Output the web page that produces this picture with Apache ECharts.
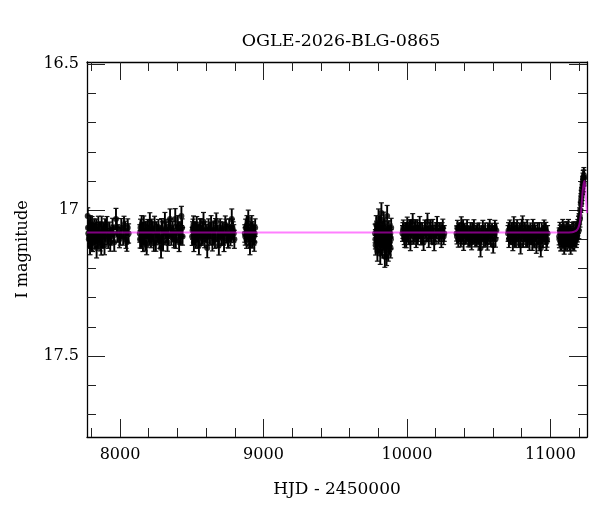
<!DOCTYPE html>
<html>
<head>
<meta charset="utf-8">
<script src="https://cdn.jsdelivr.net/npm/echarts@6/dist/echarts.min.js"></script>
<style>
html,body{margin:0;padding:0;background:#fff;}
#chart{width:600px;height:512px;}
</style>
</head>
<body>
<div id="chart"></div>
<script>
// ---- data: [HJD-2450000, I mag, error] ----
const season1 = [[7775,17.02,0.028],[7779,17.08,0.030],[7783,17.10,0.031],[7787,17.06,0.027],[7791,17.12,0.033],[7796,17.07,0.029],[7800,17.09,0.030],[7805,17.05,0.028],[7810,17.11,0.032],[7815,17.08,0.029],[7820,17.06,0.030],[7826,17.10,0.031],[7831,17.07,0.028],[7837,17.13,0.034],[7843,17.09,0.030],[7849,17.05,0.029],[7856,17.08,0.031],[7862,17.11,0.030],[7869,17.12,0.034],[7876,17.09,0.032],[7884,17.07,0.029],[7892,17.12,0.033],[7900,17.08,0.030],[7909,17.05,0.028],[7918,17.10,0.031],[7927,17.07,0.029],[7937,17.09,0.030],[7948,17.06,0.032],[7960,17.11,0.031],[7972,17.03,0.036],[7984,17.08,0.030],[7996,17.10,0.029],[8009,17.06,0.031],[8022,17.09,0.030],[8035,17.07,0.032],[8048,17.11,0.031],[8060,17.08,0.033],
  [7777,17.06,0.030],[7785,17.09,0.029],[7793,17.05,0.031],[7802,17.11,0.030],[7812,17.07,0.028],[7823,17.09,0.032],[7834,17.06,0.029],[7846,17.10,0.031],[7859,17.07,0.030],[7872,17.05,0.029],[7880,17.10,0.031],[7896,17.06,0.030],[7913,17.09,0.028],[7932,17.11,0.031],[7954,17.08,0.029],[7978,17.06,0.032],[8002,17.09,0.030],[8028,17.05,0.029],[8042,17.10,0.031],[8054,17.06,0.030]];
const season2 = [[8138,17.08,0.030],[8143,17.06,0.029],[8148,17.10,0.031],[8154,17.07,0.028],[8160,17.11,0.032],[8166,17.05,0.030],[8172,17.09,0.029],[8179,17.07,0.031],[8186,17.12,0.033],[8193,17.06,0.028],[8200,17.08,0.030],[8208,17.04,0.031],[8216,17.10,0.029],[8224,17.07,0.030],[8232,17.09,0.032],[8241,17.05,0.029],[8250,17.11,0.031],[8259,17.08,0.030],[8268,17.06,0.028],[8277,17.10,0.031],[8286,17.13,0.034],[8295,17.07,0.030],[8304,17.09,0.029],[8313,17.04,0.032],[8322,17.08,0.030],[8331,17.11,0.031],[8340,17.06,0.029],[8349,17.03,0.034],[8358,17.09,0.030],[8367,17.07,0.031],[8376,17.10,0.029],[8385,17.03,0.035],[8394,17.08,0.030],[8403,17.05,0.031],[8412,17.11,0.032],[8420,17.07,0.029],[8428,17.02,0.033],[8436,17.09,0.030],
  [8140,17.10,0.030],[8151,17.05,0.031],[8163,17.08,0.029],[8176,17.11,0.030],[8190,17.07,0.031],[8204,17.09,0.030],[8220,17.06,0.029],[8236,17.11,0.031],[8254,17.07,0.030],[8272,17.09,0.029],[8290,17.06,0.031],[8300,17.11,0.030],[8318,17.07,0.029],[8336,17.09,0.031],[8353,17.06,0.030],[8371,17.08,0.029],[8389,17.10,0.031],[8408,17.07,0.030],[8424,17.09,0.029],[8433,17.06,0.030]];
const season3 = [[8503,17.09,0.031],[8509,17.06,0.029],[8515,17.11,0.032],[8521,17.07,0.030],[8528,17.10,0.031],[8535,17.05,0.028],[8542,17.08,0.030],[8550,17.12,0.033],[8558,17.06,0.029],[8566,17.09,0.031],[8574,17.07,0.030],[8582,17.04,0.032],[8590,17.10,0.029],[8599,17.08,0.031],[8608,17.13,0.033],[8617,17.06,0.030],[8626,17.09,0.029],[8635,17.05,0.031],[8644,17.11,0.030],[8653,17.07,0.032],[8662,17.10,0.031],[8671,17.04,0.030],[8680,17.08,0.029],[8689,17.12,0.034],[8698,17.06,0.030],[8707,17.09,0.031],[8716,17.07,0.029],[8725,17.11,0.032],[8734,17.05,0.030],[8743,17.08,0.031],[8752,17.10,0.029],[8761,17.06,0.030],[8770,17.09,0.032],[8779,17.03,0.034],[8788,17.07,0.030],[8797,17.10,0.031],
  [8506,17.07,0.030],[8512,17.05,0.030],[8518,17.09,0.031],[8531,17.07,0.029],[8546,17.10,0.030],[8562,17.06,0.031],[8578,17.09,0.029],[8594,17.07,0.030],[8612,17.09,0.031],[8630,17.07,0.029],[8648,17.09,0.030],[8666,17.06,0.031],[8684,17.10,0.029],[8702,17.07,0.030],[8720,17.09,0.031],[8738,17.06,0.029],[8756,17.10,0.030],[8774,17.08,0.031],[8784,17.06,0.029],[8793,17.08,0.030]];
const season4 = [[8870,17.08,0.030],[8876,17.06,0.029],[8882,17.10,0.031],[8888,17.07,0.030],[8894,17.03,0.030],[8900,17.09,0.030],[8906,17.12,0.033],[8912,17.07,0.029],[8918,17.05,0.031],[8924,17.10,0.030],[8930,17.08,0.029],[8936,17.11,0.031],[8942,17.06,0.030],
  [8873,17.09,0.030],[8885,17.05,0.031],[8897,17.08,0.030],[8909,17.10,0.029],[8921,17.07,0.031],[8933,17.09,0.030],[8939,17.08,0.029]];
const season5 = [[9778,17.08,0.032],[9782,17.12,0.034],[9786,17.05,0.031],[9790,17.10,0.033],[9794,17.14,0.035],[9798,17.07,0.032],[9802,17.03,0.034],[9806,17.11,0.033],[9810,17.09,0.031],[9814,17.15,0.036],[9818,17.06,0.033],[9822,17.01,0.035],[9826,17.10,0.032],[9830,17.13,0.034],[9834,17.07,0.031],[9838,17.04,0.033],[9842,17.11,0.034],[9846,17.16,0.036],[9850,17.08,0.032],[9854,17.12,0.033],[9858,17.16,0.030],[9862,17.02,0.036],[9866,17.10,0.032],[9870,17.14,0.035],[9874,17.07,0.033],[9878,17.11,0.032],[9882,17.09,0.031],[9886,17.13,0.034],[9890,17.06,0.032],
  [9780,17.10,0.033],[9788,17.07,0.032],[9796,17.11,0.034],[9804,17.08,0.033],[9812,17.05,0.032],[9820,17.12,0.034],[9828,17.08,0.033],[9836,17.10,0.032],[9844,17.06,0.033],[9852,17.13,0.034],[9860,17.09,0.032],[9868,17.07,0.033],[9876,17.12,0.034],[9884,17.08,0.032],[9888,17.10,0.033]];
const season6 = [[9969,17.08,0.027],[9975,17.06,0.026],[9981,17.09,0.028],[9988,17.07,0.027],[9995,17.10,0.029],[10002,17.05,0.026],[10009,17.08,0.028],[10016,17.06,0.027],[10024,17.11,0.029],[10032,17.07,0.026],[10040,17.04,0.028],[10048,17.09,0.027],[10056,17.07,0.029],[10064,17.10,0.028],[10072,17.06,0.026],[10080,17.08,0.027],[10089,17.05,0.028],[10098,17.09,0.029],[10107,17.07,0.027],[10116,17.11,0.028],[10125,17.06,0.026],[10134,17.08,0.027],[10143,17.04,0.029],[10152,17.10,0.028],[10161,17.07,0.027],[10170,17.09,0.026],[10180,17.06,0.028],[10190,17.11,0.029],[10200,17.08,0.027],[10210,17.05,0.028],[10220,17.09,0.026],[10230,17.07,0.027],[10240,17.10,0.028],[10250,17.06,0.029],[10260,17.08,0.027],
  [9972,17.07,0.027],[9985,17.10,0.028],[9998,17.07,0.027],[10012,17.09,0.028],[10028,17.06,0.027],[10044,17.08,0.028],[10060,17.06,0.027],[10076,17.09,0.028],[10094,17.07,0.027],[10111,17.09,0.028],[10130,17.07,0.027],[10148,17.08,0.028],[10166,17.06,0.027],[10185,17.09,0.028],[10205,17.07,0.027],[10225,17.08,0.028],[10245,17.07,0.027],[10256,17.09,0.028]];
const season7 = [[10346,17.08,0.026],[10352,17.06,0.025],[10358,17.10,0.027],[10365,17.07,0.026],[10372,17.09,0.025],[10379,17.05,0.027],[10387,17.08,0.026],[10395,17.11,0.028],[10403,17.07,0.025],[10411,17.09,0.026],[10419,17.06,0.027],[10427,17.10,0.026],[10435,17.08,0.025],[10443,17.07,0.027],[10451,17.11,0.026],[10459,17.09,0.025],[10467,17.06,0.027],[10475,17.10,0.026],[10483,17.08,0.028],[10491,17.07,0.025],[10499,17.09,0.026],[10507,17.11,0.027],[10513,17.13,0.030],[10521,17.08,0.026],[10529,17.06,0.025],[10537,17.10,0.027],[10545,17.07,0.026],[10553,17.09,0.025],[10561,17.11,0.027],[10569,17.08,0.026],[10577,17.06,0.028],[10585,17.10,0.026],[10593,17.07,0.025],[10601,17.12,0.027],[10609,17.08,0.026],[10617,17.10,0.027],[10623,17.07,0.025],
  [10349,17.09,0.026],[10361,17.07,0.025],[10376,17.10,0.026],[10391,17.06,0.027],[10407,17.09,0.026],[10423,17.08,0.025],[10439,17.10,0.026],[10455,17.07,0.027],[10471,17.09,0.026],[10487,17.10,0.025],[10503,17.07,0.026],[10517,17.09,0.027],[10533,17.08,0.026],[10549,17.10,0.025],[10565,17.07,0.026],[10581,17.09,0.027],[10597,17.08,0.026],[10613,17.06,0.025]];
const season8 = [[10705,17.08,0.027],[10711,17.10,0.028],[10717,17.06,0.026],[10724,17.09,0.027],[10731,17.07,0.028],[10738,17.11,0.029],[10745,17.05,0.027],[10752,17.08,0.026],[10760,17.10,0.028],[10768,17.06,0.027],[10776,17.09,0.029],[10784,17.07,0.026],[10792,17.12,0.030],[10800,17.06,0.028],[10806,17.05,0.030],[10814,17.09,0.027],[10822,17.07,0.028],[10830,17.10,0.026],[10838,17.06,0.027],[10846,17.08,0.029],[10854,17.11,0.028],[10862,17.07,0.026],[10870,17.09,0.027],[10878,17.06,0.028],[10886,17.10,0.029],[10894,17.08,0.027],[10902,17.12,0.028],[10910,17.07,0.026],[10918,17.09,0.027],[10926,17.11,0.029],[10933,17.13,0.030],[10940,17.07,0.027],[10948,17.10,0.028],[10956,17.06,0.026],[10964,17.09,0.027],[10972,17.11,0.028],[10980,17.08,0.027],
  [10708,17.07,0.027],[10720,17.09,0.028],[10734,17.08,0.027],[10748,17.10,0.028],[10764,17.07,0.027],[10780,17.10,0.028],[10796,17.08,0.027],[10810,17.10,0.028],[10826,17.08,0.027],[10842,17.10,0.028],[10858,17.08,0.027],[10874,17.11,0.028],[10890,17.07,0.027],[10906,17.09,0.028],[10922,17.07,0.027],[10937,17.09,0.028],[10952,17.08,0.027],[10968,17.07,0.028],[10976,17.10,0.027]];
const season9 = [[11061,17.09,0.029],[11066,17.07,0.028],[11071,17.11,0.030],[11076,17.08,0.031],[11081,17.10,0.029],[11086,17.06,0.028],[11091,17.09,0.030],[11096,17.12,0.031],[11101,17.08,0.029],[11106,17.10,0.028],[11111,17.07,0.030],[11116,17.11,0.029],[11121,17.09,0.031],[11126,17.06,0.028],[11131,17.10,0.029],[11136,17.08,0.030],[11141,17.12,0.031],[11146,17.09,0.029],[11151,17.07,0.028],[11156,17.10,0.030],[11161,17.08,0.029],[11166,17.11,0.030],[11171,17.09,0.028],[11176,17.07,0.029],[11181,17.10,0.028],[11186,17.07,0.029],[11191,17.06,0.028],[11196,17.05,0.029],[11200,17.04,0.028],[11204,17.02,0.028],[11208,17.00,0.027],[11212,16.98,0.028],[11215,16.96,0.027],[11218,16.95,0.028],[11221,16.94,0.027],[11224,16.92,0.026],[11227,16.90,0.027],[11229,16.89,0.026],[11231,16.91,0.027],[11233,16.88,0.026],[11235,16.89,0.027],
  [11063,17.10,0.029],[11068,17.08,0.028],[11073,17.09,0.030],[11078,17.11,0.029],[11083,17.08,0.028],[11088,17.10,0.030],[11093,17.07,0.029],[11098,17.09,0.028],[11103,17.11,0.030],[11108,17.08,0.029],[11113,17.10,0.028],[11118,17.07,0.030],[11123,17.10,0.029],[11128,17.08,0.028],[11133,17.11,0.030],[11138,17.09,0.029],[11143,17.08,0.028],[11148,17.10,0.030],[11153,17.09,0.029],[11158,17.11,0.028],[11163,17.07,0.030],[11168,17.09,0.029],[11173,17.10,0.028],[11178,17.08,0.029],[11183,17.09,0.028],[11188,17.08,0.029],[11198,17.07,0.028],[11206,17.03,0.028],[11213,16.97,0.027],[11219,16.93,0.027],[11225,16.91,0.026],[11230,16.89,0.027]];

// model curve
const modelHjd = [7770, 11100, 11150, 11170, 11185, 11195, 11204, 11212, 11220, 11226, 11232, 11237, 11242, 11247, 11252, 11255];
const modelMag = [17.077, 17.077, 17.076, 17.073, 17.068, 17.060, 17.045, 17.015, 16.965, 16.930, 16.908, 16.900, 16.915, 16.950, 16.990, 17.010];

// axis ranges and ticks
const xMin = 7770, xMax = 11255;
const yMin = 16.492, yMax = 17.778;
const xMajor = [8000, 9000, 10000, 11000];
const xMinor = [7800, 8200, 8400, 8600, 8800, 9200, 9400, 9600, 9800, 10200, 10400, 10600, 10800, 11200];
const yMajor = [16.5, 17, 17.5];
const yMinor = [16.6, 16.7, 16.8, 16.9, 17.1, 17.2, 17.3, 17.4, 17.6, 17.7];

const allData = [].concat(season1, season2, season3, season4, season5, season6, season7, season8, season9);
const points = allData.map(d => [d[0], d[1]]);
const modelData = modelHjd.map((h, i) => [h, modelMag[i]]);

const FONT = 'DejaVu Serif';
const INK = '#000';

function xAx(pos, ticks, len, showLine, labels) {
  return {
    type: 'value', position: pos, min: xMin, max: xMax,
    axisLine: { show: showLine, onZero: false, lineStyle: { color: INK, width: 1.3 } },
    axisTick: { show: true, inside: true, length: len, customValues: ticks, lineStyle: { color: '#222', width: 1 } },
    axisLabel: labels ? { show: true, customValues: ticks, color: INK, fontFamily: FONT, fontSize: 16, margin: 10,
      formatter: v => String(v) } : { show: false },
    splitLine: { show: false }
  };
}
function yAx(pos, ticks, len, showLine, labels) {
  return {
    type: 'value', position: pos, min: yMin, max: yMax, inverse: true,
    axisLine: { show: showLine, onZero: false, lineStyle: { color: INK, width: 1.3 } },
    axisTick: { show: true, inside: true, length: len, customValues: ticks, lineStyle: { color: '#222', width: 1 } },
    axisLabel: labels ? { show: true, customValues: ticks, color: INK, fontFamily: FONT, fontSize: 16, margin: 8,
      formatter: v => String(v) } : { show: false },
    splitLine: { show: false }
  };
}

const xAxes = [
  xAx('bottom', xMajor, 18, true, true),
  xAx('bottom', xMinor, 9, false, false),
  xAx('top', xMajor, 18, true, false),
  xAx('top', xMinor, 9, false, false)
];
Object.assign(xAxes[0], { name: 'HJD - 2450000', nameLocation: 'middle', nameGap: 44,
  nameTextStyle: { color: INK, fontFamily: FONT, fontSize: 17 } });
const yAxes = [
  yAx('left', yMajor, 18, true, true),
  yAx('left', yMinor, 9, false, false),
  yAx('right', yMajor, 18, true, false),
  yAx('right', yMinor, 9, false, false)
];
Object.assign(yAxes[0], { name: 'I magnitude', nameLocation: 'middle', nameGap: 56, nameRotate: 90,
  nameTextStyle: { color: INK, fontFamily: FONT, fontSize: 16 } });

const chart = echarts.init(document.getElementById('chart'), null, { renderer: 'canvas' });
chart.setOption({
  animation: false,
  backgroundColor: '#fff',
  title: {
    text: 'OGLE-2026-BLG-0865', left: 336, top: 27, textAlign: 'center',
    textStyle: { color: INK, fontFamily: FONT, fontSize: 17.5, fontWeight: 'normal' }
  },
  grid: { left: 87, right: 13, top: 62, bottom: 75, outerBoundsMode: 'none' },
  xAxis: xAxes,
  yAxis: yAxes,
  series: [
    {
      type: 'custom', xAxisIndex: 0, yAxisIndex: 0, clip: true,
      encode: { x: 0, y: 1 },
      data: allData,
      renderItem: function (params, api) {
        const x = api.value(0), y = api.value(1), e = api.value(2);
        const a = api.coord([x, y - e]);
        const b = api.coord([x, y + e]);
        const w = 2.5;
        const stem = { stroke: '#000', lineWidth: 1.9 };
        const cap = { stroke: '#111', lineWidth: 1.2 };
        return {
          type: 'group',
          children: [
            { type: 'line', shape: { x1: a[0], y1: a[1], x2: b[0], y2: b[1] }, style: stem },
            { type: 'line', shape: { x1: a[0] - w, y1: a[1], x2: a[0] + w, y2: a[1] }, style: cap },
            { type: 'line', shape: { x1: b[0] - w, y1: b[1], x2: b[0] + w, y2: b[1] }, style: cap }
          ]
        };
      }
    },
    {
      type: 'scatter', xAxisIndex: 0, yAxisIndex: 0,
      data: points, symbol: 'circle', symbolSize: 6,
      itemStyle: { color: '#000' }
    },
    {
      type: 'line', xAxisIndex: 0, yAxisIndex: 0,
      data: modelData, showSymbol: false, smooth: 0.3,
      lineStyle: { color: '#ff00ff', width: 2, opacity: 0.5 }
    }
  ]
});
</script>
</body>
</html>
